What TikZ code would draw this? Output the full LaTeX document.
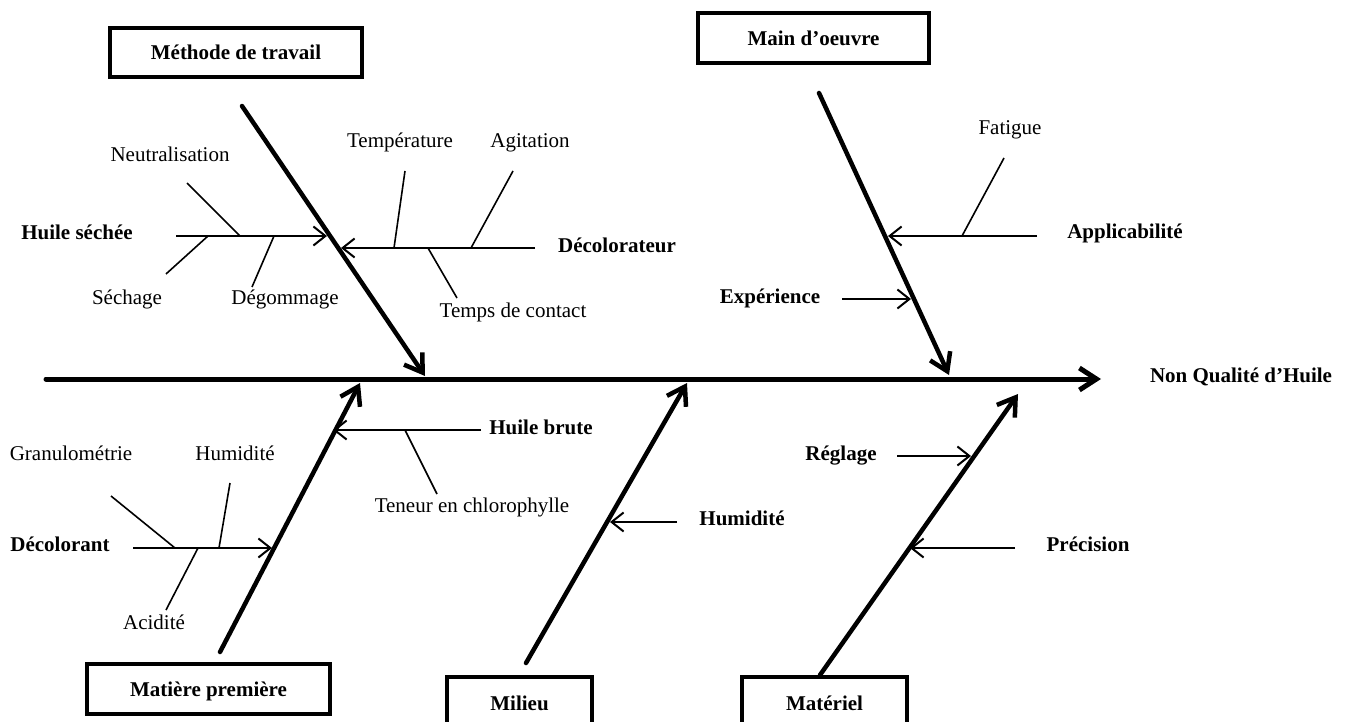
\documentclass[tikz,border=0pt]{standalone}
\usepackage{fontspec}
\setmainfont{Liberation Serif}
\usetikzlibrary{arrows.meta}
\begin{document}
\begin{tikzpicture}[x=1pt,y=-1pt,
  lbl/.style={anchor=base,inner sep=0pt,font=\fontsize{21}{25}\selectfont},
  blbl/.style={lbl,font=\fontsize{21}{25}\selectfont\bfseries},
  catbox/.style={draw,line width=4pt,inner sep=0pt,text height=15pt,text depth=0pt,font=\fontsize{21}{25}\selectfont\bfseries},
  spine/.style={line width=5pt,line cap=round,-{Straight Barb[length=17pt,width=22pt]}},
  bone/.style={line width=4.5pt,line cap=round,-{Straight Barb[length=17pt,width=22pt]}},
  rib/.style={line width=2pt,-{Straight Barb[length=12pt,width=19pt]}},
  twig/.style={line width=1.6pt}]
\useasboundingbox (0,0) rectangle (1351,722);
\begin{scope}
\clip (0,0) rectangle (1351,722);
% category boxes
\node[catbox,minimum width=252pt,minimum height=49pt] (bMeth) at (236,52.5) {Méthode de travail};
\node[catbox,minimum width=231pt,minimum height=50pt] (bMain) at (813.5,38.5) {Main d’oeuvre};
\node[catbox,minimum width=243pt,minimum height=50pt] (bMat) at (208.5,689) {Matière première};
\node[catbox,minimum width=145pt,minimum height=51pt] (bMil) at (519.5,702.5) {Milieu};
\node[catbox,minimum width=165pt,minimum height=51pt] (bMatl) at (824.5,702.5) {Matériel};
\end{scope}
% effect
\node[blbl] (effect) at (1241,382) {Non Qualité d’Huile};
% spine
\coordinate (s0) at (46,379);
\coordinate (s1) at (1101,379);
\draw[spine] (s0) -- (s1);
% main bones
\coordinate (m1) at (242,106); \coordinate (m2) at (425,376);
\coordinate (w1) at (819,93);  \coordinate (w2) at (949,375);
\coordinate (p1) at (220,652); \coordinate (p2) at (360,383);
\coordinate (e1) at (526,663); \coordinate (e2) at (687,383);
\coordinate (t1) at (820,675); \coordinate (t2) at (1018,394);
\draw[bone] (m1) -- (m2);
\draw[bone] (w1) -- (w2);
\draw[bone] (p1) -- (p2);
\draw[bone] (e1) -- (e2);
\draw[bone] (t1) -- (t2);
% ---- Méthode de travail
\node[blbl] (hs) at (77,239) {Huile séchée};
\coordinate (hs0) at (176,236); \coordinate (hs1) at (327,236);
\draw[rib] (hs0) -- (hs1);
\node[lbl] (neu) at (170,162) {Neutralisation};
\coordinate (neu0) at (187,183); \coordinate (neu1) at (240,236);
\draw[twig] (neu0) -- (neu1);
\node[lbl] (sech) at (127,304) {Séchage};
\coordinate (sech0) at (166,274); \coordinate (sech1) at (208,236);
\draw[twig] (sech0) -- (sech1);
\node[lbl] (deg) at (285,304) {Dégommage};
\coordinate (deg0) at (252,287); \coordinate (deg1) at (274,236);
\draw[twig] (deg0) -- (deg1);
\node[blbl] (dec) at (617,252) {Décolorateur};
\coordinate (dec0) at (535,248); \coordinate (dec1) at (341,248);
\draw[rib] (dec0) -- (dec1);
\node[lbl] (temp) at (400,148) {Température};
\coordinate (temp0) at (405,171); \coordinate (temp1) at (394,248);
\draw[twig] (temp0) -- (temp1);
\node[lbl] (agit) at (530,148) {Agitation};
\coordinate (agit0) at (513,171); \coordinate (agit1) at (471,248);
\draw[twig] (agit0) -- (agit1);
\node[lbl] (tdc) at (513,317) {Temps de contact};
\coordinate (tdc0) at (428,248); \coordinate (tdc1) at (457,298);
\draw[twig] (tdc0) -- (tdc1);
% ---- Main d'oeuvre
\node[blbl] (app) at (1125,238) {Applicabilité};
\coordinate (app0) at (1037,236); \coordinate (app1) at (888,236);
\draw[rib] (app0) -- (app1);
\node[lbl] (fat) at (1010,135) {Fatigue};
\coordinate (fat0) at (1004,158); \coordinate (fat1) at (962,236);
\draw[twig] (fat0) -- (fat1);
\node[blbl] (exp) at (770,303) {Expérience};
\coordinate (exp0) at (842,299); \coordinate (exp1) at (911,299);
\draw[rib] (exp0) -- (exp1);
% ---- Matière première
\node[blbl] (hb) at (541,434) {Huile brute};
\coordinate (hb0) at (481,430); \coordinate (hb1) at (333,430);
\draw[rib] (hb0) -- (hb1);
\node[lbl] (ten) at (472,512) {Teneur en chlorophylle};
\coordinate (ten0) at (405,430); \coordinate (ten1) at (437,494);
\draw[twig] (ten0) -- (ten1);
\node[blbl] (dct) at (60,551) {Décolorant};
\coordinate (dct0) at (133,548); \coordinate (dct1) at (272,548);
\draw[rib] (dct0) -- (dct1);
\node[lbl] (gran) at (71,460) {Granulométrie};
\coordinate (gran0) at (111,496); \coordinate (gran1) at (175,548);
\draw[twig] (gran0) -- (gran1);
\node[lbl] (hum) at (235,460) {Humidité};
\coordinate (hum0) at (230,483); \coordinate (hum1) at (219,548);
\draw[twig] (hum0) -- (hum1);
\node[lbl] (acid) at (154,629) {Acidité};
\coordinate (acid0) at (166,610); \coordinate (acid1) at (198,548);
\draw[twig] (acid0) -- (acid1);
% ---- Milieu
\node[blbl] (humm) at (742,525) {Humidité};
\coordinate (humm0) at (677,522); \coordinate (humm1) at (610,522);
\draw[rib] (humm0) -- (humm1);
% ---- Matériel
\node[blbl] (reg) at (841,460) {Réglage};
\coordinate (reg0) at (897,456); \coordinate (reg1) at (971,456);
\draw[rib] (reg0) -- (reg1);
\node[blbl] (prec) at (1088,551) {Précision};
\coordinate (prec0) at (1015,548); \coordinate (prec1) at (910,548);
\draw[rib] (prec0) -- (prec1);
\end{tikzpicture}
\end{document}
